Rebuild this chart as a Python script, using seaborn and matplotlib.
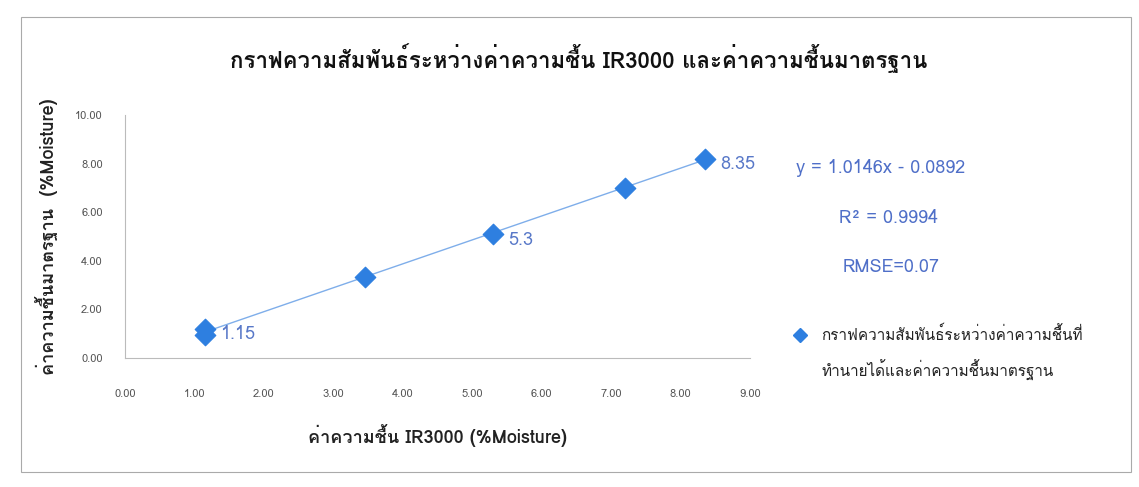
import matplotlib
matplotlib.use("Agg")
import matplotlib.pyplot as plt
import seaborn as sns
import pandas as pd
from matplotlib import font_manager
from matplotlib.ft2font import FT2Font

# data
ir3000 = [1.15, 1.15, 3.45, 5.30, 7.20, 8.35]
standard = [1.20, 0.95, 3.35, 5.10, 7.00, 8.20]
point_labels = {0: "1.15", 3: "5.3", 5: "8.35"}
x_ticks = [0, 1, 2, 3, 4, 5, 6, 7, 8, 9]
y_ticks = [0, 2, 4, 6, 8, 10]
equation = "y = 1.0146x - 0.0892"
r2_text = "R² = 0.9994"
rmse_text = "RMSE=0.07"

title = "กราฟความสัมพันธ์ระหว่างค่าความชื้น IR3000 และค่าความชื้นมาตรฐาน"
xlabel = "ค่าความชื้น IR3000 (%Moisture)"
ylabel = "ค่าความชื้นมาตรฐาน  (%Moisture)"
legend_label = "กราฟความสัมพันธ์ระหว่างค่าความชื้นที่\nทำนายได้และค่าความชื้นมาตรฐาน"

df = pd.DataFrame({"x": ir3000, "y": standard})

sns.set_theme(style="white")

# find a font that has Thai glyphs
thai_font = None
for f in font_manager.fontManager.ttflist:
    try:
        if ord("ก") in FT2Font(f.fname).get_charmap():
            thai_font = f.name
            break
    except Exception:
        pass
families = [thai_font, "DejaVu Sans"] if thai_font else ["DejaVu Sans"]
plt.rcParams["font.family"] = families

fig = plt.figure(figsize=(11.39, 4.87), dpi=100)
ax = fig.add_axes([0.1097, 0.2649, 0.5487, 0.499])

blue = "#2E7FE0"
sns.regplot(data=df, x="x", y="y", ax=ax, scatter=False, ci=None, truncate=True,
            line_kws={"color": "#7FAEEA", "lw": 1.0})
sns.scatterplot(data=df, x="x", y="y", ax=ax, marker="D", s=110, color=blue,
                edgecolor=blue, zorder=3)

for i, lab in point_labels.items():
    ax.annotate(lab, (ir3000[i], standard[i]), xytext=(11, -4), textcoords="offset points",
                color="#5878C8", fontsize=13, va="center")

ax.set_xlim(0, 9)
ax.set_ylim(0, 10)
ax.set_xticks(x_ticks)
ax.set_yticks(y_ticks)
ax.set_xticklabels([f"{v:.2f}" for v in x_ticks], fontsize=8, color="#555555")
ax.set_yticklabels([f"{v:.2f}" for v in y_ticks], fontsize=8, color="#555555")
ax.tick_params(axis="x", length=0, pad=22)
ax.tick_params(axis="y", length=0, pad=16)
sns.despine(ax=ax, top=True, right=True)
for s in ["left", "bottom"]:
    ax.spines[s].set_color("#BBBBBB")
    ax.spines[s].set_linewidth(0.8)

ax.set_xlabel(xlabel, fontsize=13, fontweight="bold", color="#222222", labelpad=18)
ax.set_ylabel(ylabel, fontsize=13, fontweight="bold", color="#222222", labelpad=12)

fig.text(0.508, 0.88, title, ha="center", va="center", fontsize=16,
         fontweight="bold", color="#111111")

# equation block
fig.text(0.773, 0.655, equation, ha="center", va="center", fontsize=13, color="#4F6FC8")
fig.text(0.780, 0.553, r2_text, ha="center", va="center", fontsize=13, color="#4F6FC8")
fig.text(0.782, 0.452, rmse_text, ha="center", va="center", fontsize=13, color="#4F6FC8")

# legend
fig.lines.append(plt.Line2D([0.702], [0.312], transform=fig.transFigure, marker="D",
                            markersize=7, color=blue, linestyle="none"))
fig.text(0.721, 0.275, legend_label, ha="left", va="center", fontsize=11,
         color="#222222", linespacing=2.0)

# chart border
fig.patches.append(plt.Rectangle((0.018, 0.03), 0.975, 0.935, transform=fig.transFigure,
                                 fill=False, edgecolor="#AAAAAA", lw=0.8))

fig.savefig("out.png", dpi=100)
